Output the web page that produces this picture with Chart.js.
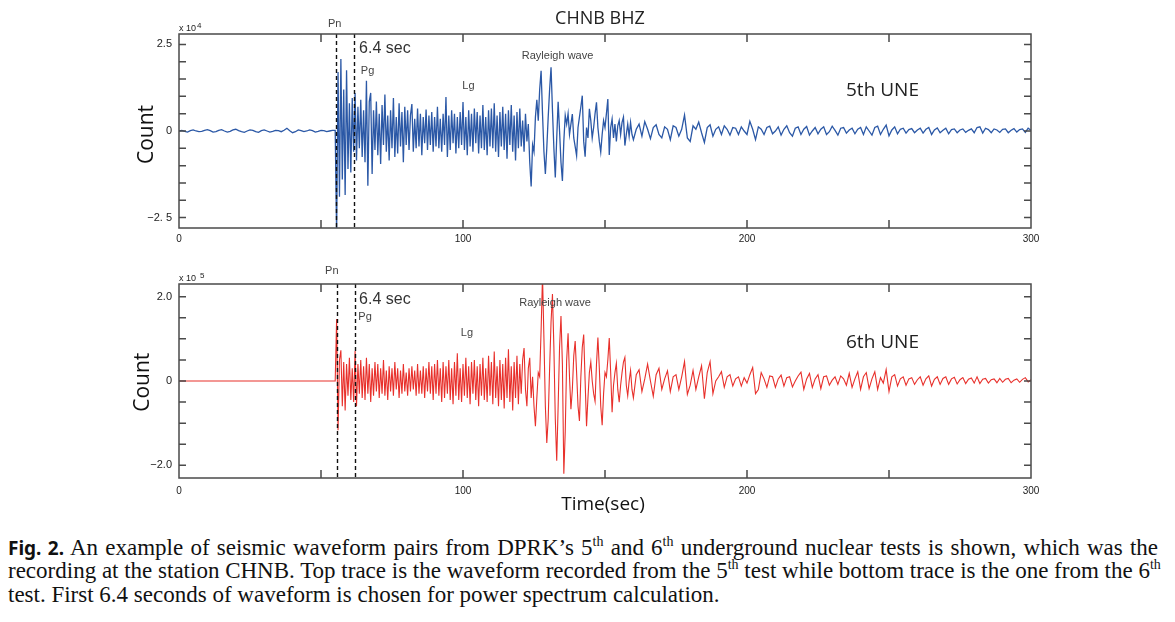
<!DOCTYPE html>
<html>
<head>
<meta charset="utf-8">
<script src="https://cdn.jsdelivr.net/npm/chart.js@4.4.0/dist/chart.umd.min.js"></script>
<style>
body{margin:0;background:#fff;width:1175px;height:622px;overflow:hidden;position:relative}
canvas{position:absolute;left:0}
#c1{top:0}
#c2{top:255px}
.cap{position:absolute;left:8px;top:536px;width:1150px;font-family:"Liberation Serif",serif;font-size:23px;color:#111}
.cap div{line-height:23.3px;height:23.3px;white-space:nowrap}
.cap .j{text-align:justify;text-align-last:justify}
.cap sup{font-size:14px;line-height:0;vertical-align:baseline;position:relative;top:-9px}
.fig{font-family:"Noto Sans",sans-serif;font-weight:700;font-size:19px}
</style>
</head>
<body>
<canvas id="c1" width="1175" height="255"></canvas>
<canvas id="c2" width="1175" height="265"></canvas>
<div class="cap">
<div class="j"><span class="fig">Fig. 2.</span> An example of seismic waveform pairs from DPRK’s 5<sup>th</sup> and 6<sup>th</sup> underground nuclear tests is shown, which was the</div>
<div class="j">recording at the station CHNB. Top trace is the waveform recorded from the 5<sup>th</sup> test while bottom trace is the one from the 6<sup>th</sup></div>
<div>test. First 6.4 seconds of waveform is chosen for power spectrum calculation.</div>
</div>
<script>
const X_TICKS = [0, 100, 200, 300];
const TOP_Y_TICKS = [2.5, 0, -2.5];
const TOP_Y_LABELS = ['2.5', '0', '\u22122. 5'];
const BOT_Y_TICKS = [2, 0, -2];
const BOT_Y_LABELS = ['2.0', '0', '\u22122.0'];
// Pn pick and end of the 6.4 s window (s)
const TOP_PICKS = [55.3, 61.7];
const BOT_PICKS = [55.5, 62.0];

// 5th UNE, counts x 10^4
// before Pn: 0-54 s, every 1 s
const UNE5_PRE = [
  0.00, 0.02, -0.01, -0.03, 0.01, 0.03, 0.00, -0.02, -0.01, 0.02,
  0.04, 0.01, -0.03, -0.02, 0.02, 0.04, 0.00, -0.03, -0.01, 0.03,
  0.05, 0.01, -0.02, -0.04, 0.00, 0.03, 0.02, -0.02, -0.04, 0.01,
  0.03, 0.00, -0.03, -0.01, 0.02, 0.01, -0.02, 0.02, 0.08, 0.01,
  -0.05, -0.02, 0.03, 0.01, -0.02, 0.00, 0.03, 0.01, -0.03, -0.01,
  0.02, 0.01, -0.02, 0.00, 0.02
];
// 55-159.5 s, every 0.5 s
const UNE5_CODA = [
  0.02, -2.95, 1.70, -1.90, 2.08, -1.40, 1.20, -1.85, 1.75, -1.10,
  0.80, -1.20, 0.95, -0.60, 1.10, -0.85, 0.70, -0.50, 0.90, -0.75,
  0.60, -0.90, 1.45, -1.58, 0.85, 1.10, -1.24, 0.60, -0.55, 0.85,
  -0.70, 0.50, -0.95, 0.75, -0.40, 1.05, -0.60, 0.45, -0.85, 0.60,
  -0.50, 0.95, -0.75, 0.40, -0.65, 0.80, -0.45, 0.55, -0.90, 0.70,
  -0.40, 0.60, -0.55, 0.45, 0.78, -0.60, 0.35, -0.50, 0.65, -0.45,
  0.50, -0.70, 0.40, -0.35, 0.62, -0.55, 0.45, -0.40, 0.55, -0.60,
  0.40, -0.45, 0.70, -0.50, 0.35, -0.60, 0.50, -0.40, 0.98, -0.75,
  0.45, -0.55, 0.60, -0.35, 0.50, -0.65, 0.40, -0.50, 0.55, -0.40,
  0.84, -0.55, 0.40, -0.70, 0.60, -0.45, 0.50, -0.60, 0.65, -0.35,
  0.55, -0.65, 0.45, -0.50, 0.75, -0.55, 0.40, -0.70, 0.60, -0.45,
  0.65, -0.50, 0.80, -0.60, 0.45, -0.75, 0.55, -0.45, 0.70, -0.55,
  0.50, -0.80, 0.60, -0.40, 0.75, -0.60, 0.45, -0.85, 0.55, -0.50,
  0.65, -0.45, 0.30, -0.60, 0.50, -0.30, 0.20, -0.90, -1.60, -0.40,
  -0.60, 0.40, 0.90, 0.30, 1.20, 1.74, 0.50, -0.60, -1.24, -0.50,
  0.40, 1.20, 1.84, 0.60, -0.50, -1.34, -0.20, 0.84, 0.00, -0.90,
  -1.44, -0.30, 0.45, 0.20, 0.50, -0.10, 0.20, 0.49, -0.20, -0.45,
  -0.71, 0.10, 0.40, 0.70, 1.02, -0.30, -0.74, 0.10, -0.20, 0.64,
  0.30, -0.20, 0.10, 0.50, 0.83, 0.10, -0.30, -0.61, -0.10, 0.30,
  0.10, 0.50, 0.92, -0.69, 0.10, 0.35, -0.20, 0.20, -0.30, 0.15,
  0.30, -0.10, 0.25, 0.40, -0.42, -0.10, 0.20, -0.15, 0.25, -0.10
];
// 160-300 s, every 1 s
const UNE5_TAIL = [
  -0.25, 0.05, 0.20, -0.15, 0.27, 0.05, -0.22, 0.10, 0.18, -0.10,
  -0.20, 0.12, 0.05, -0.25, 0.15, 0.10, -0.15, 0.05, 0.46, -0.20,
  -0.30, 0.15, 0.05, 0.26, -0.05, -0.33, 0.10, 0.18, -0.15, 0.05,
  0.12, -0.10, 0.15, 0.05, -0.12, 0.10, 0.08, -0.10, 0.12, 0.00,
  -0.10, 0.28, 0.05, -0.25, 0.12, 0.05, -0.10, 0.10, 0.14, -0.08,
  0.00, 0.12, -0.12, 0.05, 0.15, -0.05, -0.15, 0.08, 0.12, -0.10,
  0.05, 0.13, -0.12, 0.00, 0.10, -0.08, 0.05, 0.12, -0.10, -0.02,
  0.14, 0.02, -0.12, 0.08, 0.10, -0.06, 0.03, 0.08, -0.08, 0.05,
  0.10, -0.10, 0.12, 0.00, -0.12, 0.10, 0.14, -0.10, 0.05, 0.17,
  -0.14, 0.03, 0.12, -0.08, 0.05, 0.08, -0.06, 0.04, 0.07, -0.05,
  0.03, 0.08, -0.06, 0.05, 0.10, -0.10, 0.03, 0.09, -0.05, 0.02,
  0.08, -0.08, 0.04, 0.06, -0.05, 0.03, 0.06, -0.04, 0.02, 0.06,
  -0.05, 0.10, 0.12, -0.06, 0.08, 0.04, -0.05, 0.06, 0.03, -0.04,
  0.05, 0.06, -0.05, 0.02, 0.07, -0.03, 0.04, 0.06, -0.04, 0.08,
  0.02
];

// 6th UNE, counts x 10^5
const UNE6_PRE = [
  0, 0, 0, 0, 0, 0, 0, 0, 0, 0,
  0, 0, 0, 0, 0, 0, 0, 0, 0, 0,
  0, 0, 0, 0, 0, 0, 0, 0, 0, 0,
  0, 0, 0, 0, 0, 0, 0, 0, 0, 0,
  0, 0, 0, 0, 0, 0, 0, 0, 0, 0,
  0, 0, 0, 0, 0
];
const UNE6_CODA = [
  0.00, 1.47, -1.17, 0.50, 0.73, -0.60, 0.45, -0.70, 0.40, -0.35,
  0.55, -0.45, 0.30, -0.50, 0.71, -0.60, 0.40, -0.30, 0.50, -0.40,
  0.35, -0.45, 0.55, -0.30, 0.40, -0.50, 0.30, -0.35, 0.45, -0.25,
  0.40, -0.40, 0.30, -0.30, 0.50, -0.35, 0.25, -0.45, 0.35, -0.25,
  0.30, -0.35, 0.45, -0.20, 0.30, -0.40, 0.25, -0.30, 0.40, -0.25,
  0.20, -0.35, 0.30, -0.25, 0.35, -0.20, 0.25, -0.35, 0.40, -0.30,
  0.25, -0.30, 0.35, -0.40, 0.30, -0.25, 0.45, -0.30, 0.35, -0.45,
  0.40, -0.30, 0.50, -0.35, 0.30, -0.50, 0.45, -0.40, 0.35, -0.30,
  0.50, -0.45, 0.30, -0.55, 0.45, -0.35, 0.66, -0.45, 0.30, -0.50,
  0.40, -0.35, 0.55, -0.40, 0.35, -0.55, 0.45, -0.30, 0.50, -0.45,
  0.35, -0.60, 0.40, -0.35, 0.55, -0.45, 0.30, -0.50, 0.60, -0.35,
  0.45, -0.55, 0.70, -0.40, 0.35, -0.60, 0.50, -0.45, 0.40, -0.65,
  0.55, -0.40, 0.75, -0.50, 0.35, -0.70, 0.45, -0.40, 0.60, -0.55,
  0.40, -0.30, 0.50, 0.78, -0.20, -0.60, 0.30, 0.55, -0.40, 0.10,
  -0.60, -1.07, -0.40, 0.20, 0.10, 1.20, 2.50, 1.00, -0.60, -1.47,
  -0.90, 0.30, 1.40, 2.06, 0.80, -0.90, -1.89, -0.60, 0.80, 1.54,
  0.40, -2.20, -1.20, 0.50, 1.13, 0.10, -0.67, -0.20, 0.60, 0.95,
  0.20, -0.60, -0.95, 0.10, 0.80, 1.10, 0.00, -1.07, -0.40, 0.20,
  0.45, 0.00, -0.30, -0.48, 0.40, 1.03, 0.30, -0.60, -1.05, -0.30,
  0.20, 0.10, 0.50, 1.02, 0.20, -0.74, -0.10, 0.20, 0.42, -0.20,
  -0.50, -0.10, 0.20, 0.45, 0.56, -0.10, -0.35, 0.00, 0.25, -0.20
];
const UNE6_TAIL = [
  -0.40, 0.15, 0.27, -0.25, 0.05, 0.40, 0.00, -0.36, 0.15, 0.30,
  -0.20, 0.05, 0.24, -0.25, 0.10, 0.15, -0.20, 0.10, 0.46, -0.32,
  -0.10, 0.25, -0.20, 0.10, 0.36, -0.42, 0.20, 0.46, -0.30, 0.00,
  0.10, 0.22, -0.15, 0.10, 0.15, -0.12, 0.05, 0.10, -0.12, 0.08,
  -0.05, 0.15, 0.32, -0.30, -0.20, 0.20, 0.05, -0.15, 0.12, 0.10,
  -0.15, 0.05, 0.14, -0.12, 0.08, 0.10, -0.14, 0.00, 0.12, 0.21,
  -0.20, 0.05, 0.18, -0.15, 0.05, 0.15, -0.18, 0.10, 0.12, -0.10,
  0.02, 0.10, -0.08, 0.12, 0.05, -0.10, 0.18, -0.15, 0.05, 0.22,
  -0.20, 0.10, 0.20, -0.18, 0.05, 0.22, -0.20, 0.08, -0.05, 0.27,
  -0.25, 0.10, 0.15, -0.12, 0.05, 0.10, -0.10, 0.05, 0.08, -0.08,
  0.03, 0.10, -0.10, 0.05, 0.12, -0.12, 0.04, 0.10, -0.08, 0.06,
  0.10, -0.08, 0.05, 0.09, -0.07, 0.03, 0.08, -0.06, 0.04, 0.07,
  -0.05, 0.10, -0.06, 0.04, 0.06, -0.05, 0.03, 0.05, -0.04, 0.06,
  -0.03, 0.04, 0.06, -0.04, 0.02, 0.05, -0.03, 0.04, 0.08, -0.02,
  0.03
];

// [start time, sample interval, values]
function toPoints(segments) {
  const pts = [];
  segments.forEach(([t0, dt, vals]) => vals.forEach((v, i) => pts.push({x: t0 + i * dt, y: v})));
  return pts;
}

const SMALL = '11px "Liberation Sans"';
const MID = '16px "Liberation Sans"';
const BIG = '19px "Open Sans"';

// draws the box, inward ticks, pick lines and the labels
const decor = {
  id: 'decor',
  afterDatasetsDraw(chart, args, o) {
    const ctx = chart.ctx, a = chart.chartArea, x = chart.scales.x, y = chart.scales.y;
    ctx.save();
    ctx.strokeStyle = '#111';
    ctx.lineWidth = 1.4;
    ctx.setLineDash([4, 3]);
    o.picks.forEach(t => {
      const px = Math.round(x.getPixelForValue(t)) + 0.5;
      ctx.beginPath(); ctx.moveTo(px, a.top); ctx.lineTo(px, a.bottom); ctx.stroke();
    });
    ctx.setLineDash([]);
    ctx.strokeStyle = '#4a4a4a';
    ctx.lineWidth = 1.5;
    ctx.strokeRect(a.left, a.top, a.right - a.left, a.bottom - a.top);
    ctx.beginPath();
    for (let t = 50; t < 300; t += 50) {
      const px = x.getPixelForValue(t);
      ctx.moveTo(px, a.top); ctx.lineTo(px, a.top + 8);
      ctx.moveTo(px, a.bottom); ctx.lineTo(px, a.bottom - 8);
    }
    for (let v = -Math.floor(o.range / 0.5) * 0.5; v <= o.range; v += 0.5) {
      const py = y.getPixelForValue(v);
      ctx.moveTo(a.left, py); ctx.lineTo(a.left + 7, py);
      ctx.moveTo(a.right, py); ctx.lineTo(a.right - 7, py);
    }
    ctx.stroke();
    o.notes.forEach(n => {
      ctx.font = n.font;
      ctx.fillStyle = n.color || '#444';
      ctx.textAlign = n.align || 'center';
      ctx.textBaseline = 'middle';
      const px = x.getPixelForValue(n.x), py = y.getPixelForValue(n.y);
      if (n.rot) {
        ctx.save(); ctx.translate(px, py); ctx.rotate(-Math.PI / 2);
        ctx.fillText(n.text, 0, 0); ctx.restore();
      } else {
        ctx.fillText(n.text, px, py);
      }
      if (n.sup) {
        const w = ctx.measureText(n.text).width;
        ctx.font = '8px "Liberation Sans"';
        ctx.textAlign = 'left';
        ctx.fillText(n.sup, px + w + n.gap, py - 3);
      }
    });
    ctx.restore();
  }
};

function makeChart(id, o) {
  return new Chart(document.getElementById(id), {
    type: 'line',
    data: {
      datasets: [{
        data: toPoints(o.segments),
        borderColor: o.color,
        borderWidth: o.lw,
        pointRadius: 0,
        tension: 0
      }]
    },
    options: {
      responsive: false,
      animation: false,
      events: [],
      layout: {padding: {top: o.top, right: 144, left: 0, bottom: 0}},
      plugins: {legend: {display: false}, tooltip: {enabled: false}, decor: o},
      scales: {
        x: {
          type: 'linear', min: 0, max: 300,
          grid: {display: false, drawTicks: false},
          border: {display: false},
          afterBuildTicks: s => { s.ticks = X_TICKS.map(v => ({value: v})); },
          afterFit: s => { s.height = o.axisH; },
          ticks: {padding: o.xPad, color: '#222', font: {family: 'Liberation Sans', size: 10}, maxRotation: 0, autoSkip: false}
        },
        y: {
          min: -o.range, max: o.range,
          grid: {display: false, drawTicks: false},
          border: {display: false},
          afterBuildTicks: s => { s.ticks = o.yTicks.map(v => ({value: v})); },
          afterFit: s => { s.width = 179; },
          ticks: {
            padding: 7, color: '#222', font: {family: 'Liberation Sans', size: 11},
            callback: v => o.yLabels[o.yTicks.indexOf(v)]
          }
        }
      }
    },
    plugins: [decor]
  });
}

makeChart('c1', {
  segments: [[0, 1, UNE5_PRE], [55, 0.5, UNE5_CODA], [160, 1, UNE5_TAIL]],
  color: '#2b58a6', lw: 1.3, top: 34, axisH: 27, xPad: 5, range: 2.8,
  yTicks: TOP_Y_TICKS, yLabels: TOP_Y_LABELS, picks: TOP_PICKS,
  notes: [
    {text: 'CHNB BHZ', x: 148.2, y: 3.23, font: '18px "Open Sans"', color: '#222'},
    {text: 'x 10', x: 0, y: 2.95, font: '9px "Liberation Sans"', color: '#222', align: 'left', sup: '4', gap: 1},
    {text: 'Pn', x: 54.8, y: 3.10, font: SMALL},
    {text: '6.4 sec', x: 63.4, y: 2.37, font: MID, color: '#333', align: 'left'},
    {text: 'Pg', x: 66.4, y: 1.73, font: SMALL},
    {text: 'Lg', x: 101.9, y: 1.30, font: SMALL},
    {text: 'Rayleigh wave', x: 133.3, y: 2.17, font: SMALL},
    {text: '5th UNE', x: 247.7, y: 1.17, font: BIG, color: '#222'},
    {text: 'Count', x: -11.3, y: -0.1, font: '21px "Open Sans"', color: '#111', rot: true}
  ]
});

makeChart('c2', {
  segments: [[0, 1, UNE6_PRE], [55, 0.5, UNE6_CODA], [160, 1, UNE6_TAIL]],
  color: '#e8302b', lw: 1.1, top: 29, axisH: 42, xPad: 7, range: 2.3,
  yTicks: BOT_Y_TICKS, yLabels: BOT_Y_LABELS, picks: BOT_PICKS,
  notes: [
    {text: 'x 10', x: 0, y: 2.43, font: '9px "Liberation Sans"', color: '#222', align: 'left', sup: '5', gap: 4},
    {text: 'Pn', x: 53.8, y: 2.61, font: SMALL},
    {text: '6.4 sec', x: 63.4, y: 1.92, font: MID, color: '#333', align: 'left'},
    {text: 'Pg', x: 65.5, y: 1.52, font: SMALL},
    {text: 'Lg', x: 101.4, y: 1.15, font: SMALL},
    {text: 'Rayleigh wave', x: 132.4, y: 1.86, font: SMALL},
    {text: '6th UNE', x: 247.7, y: 0.90, font: BIG, color: '#222'},
    {text: 'Count', x: -12.7, y: -0.03, font: '21px "Open Sans"', color: '#111', rot: true},
    {text: 'Time(sec)', x: 149.3, y: -2.93, font: BIG, color: '#111'}
  ]
});
</script>
</body>
</html>
